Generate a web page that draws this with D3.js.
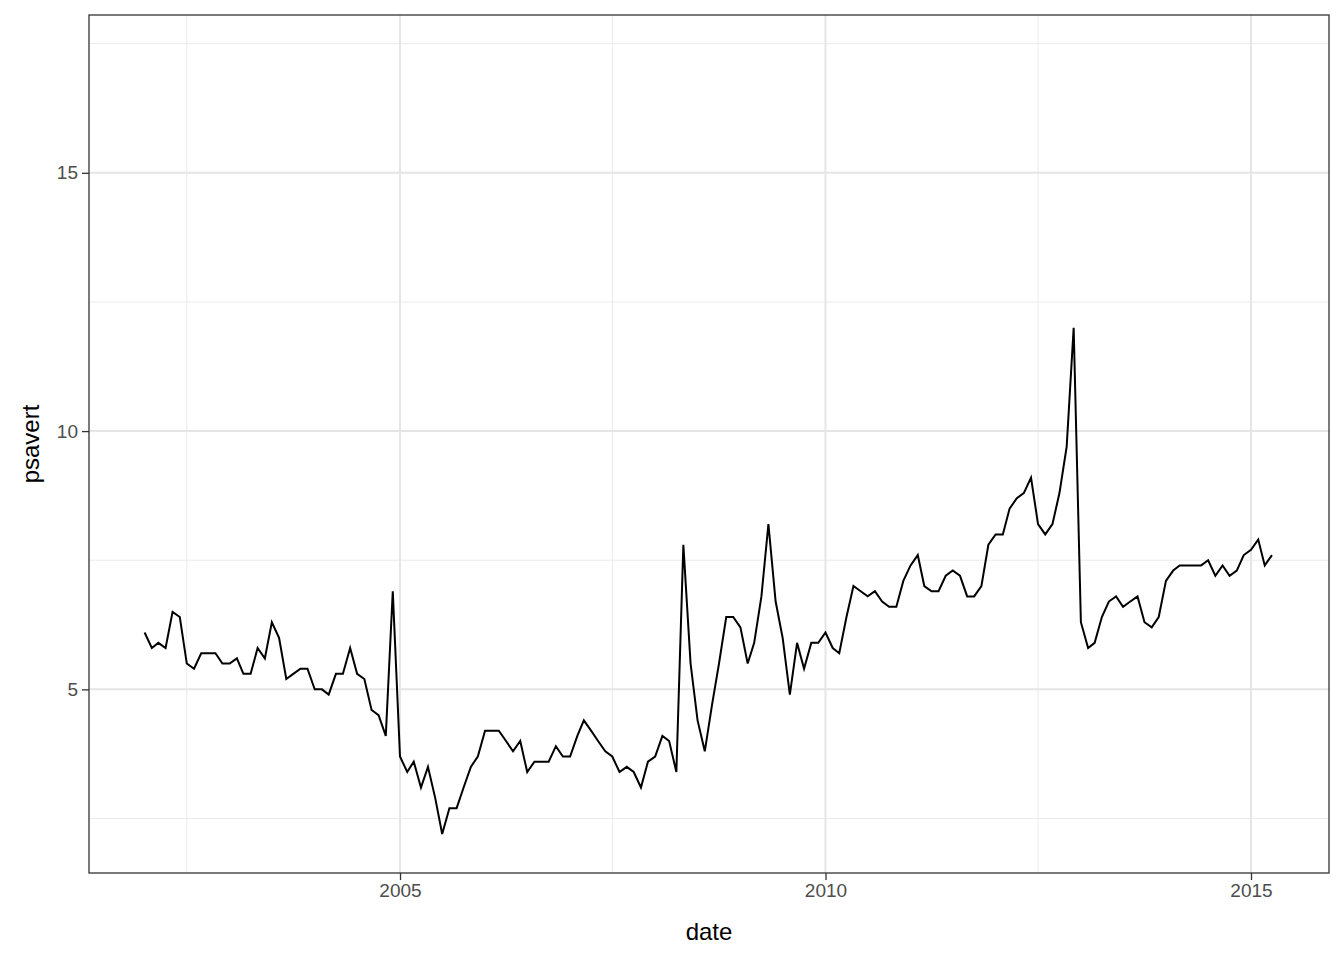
<!DOCTYPE html>
<html lang="en">
<head>
  <meta charset="UTF-8">
  <title></title>
  <style>body{margin:0;background:#fff}</style>
</head>
<body>
  <script src="https://d3js.org/d3.v7.min.js"></script>
  <script>
    // monthly personal savings rate, Jan 2002 .. Apr 2015
    const startYear = 2002;
    const psavert = [
      6.1, 5.8, 5.9, 5.8, 6.5, 6.4, 5.5, 5.4, 5.7, 5.7, 5.7, 5.5,
      5.5, 5.6, 5.3, 5.3, 5.8, 5.6, 6.3, 6.0, 5.2, 5.3, 5.4, 5.4,
      5.0, 5.0, 4.9, 5.3, 5.3, 5.8, 5.3, 5.2, 4.6, 4.5, 4.1, 6.9,
      3.7, 3.4, 3.6, 3.1, 3.5, 2.9, 2.2, 2.7, 2.7, 3.1, 3.5, 3.7,
      4.2, 4.2, 4.2, 4.0, 3.8, 4.0, 3.4, 3.6, 3.6, 3.6, 3.9, 3.7,
      3.7, 4.1, 4.4, 4.2, 4.0, 3.8, 3.7, 3.4, 3.5, 3.4, 3.1, 3.6,
      3.7, 4.1, 4.0, 3.4, 7.8, 5.5, 4.4, 3.8, 4.7, 5.5, 6.4, 6.4,
      6.2, 5.5, 5.9, 6.8, 8.2, 6.7, 6.0, 4.9, 5.9, 5.4, 5.9, 5.9,
      6.1, 5.8, 5.7, 6.4, 7.0, 6.9, 6.8, 6.9, 6.7, 6.6, 6.6, 7.1,
      7.4, 7.6, 7.0, 6.9, 6.9, 7.2, 7.3, 7.2, 6.8, 6.8, 7.0, 7.8,
      8.0, 8.0, 8.5, 8.7, 8.8, 9.1, 8.2, 8.0, 8.2, 8.8, 9.7, 12.0,
      6.3, 5.8, 5.9, 6.4, 6.7, 6.8, 6.6, 6.7, 6.8, 6.3, 6.2, 6.4,
      7.1, 7.3, 7.4, 7.4, 7.4, 7.4, 7.5, 7.2, 7.4, 7.2, 7.3, 7.6,
      7.7, 7.9, 7.4, 7.6
    ];
    const xTicks = [2005, 2010, 2015];
    const xMinor = [2002.5, 2007.5, 2012.5];
    const yTicks = [5, 10, 15];
    const yMinor = [2.5, 7.5, 12.5, 17.5];
    const yDomain = [1.445, 18.055];

    const data = psavert.map((v, i) => ({ date: new Date(startYear + Math.floor(i / 12), i % 12, 1), v }));
    const yearDate = (y) => new Date(Math.floor(y), Math.round((y % 1) * 12), 1);

    const [width, height] = [1344, 960];
    const margin = { top: 15, right: 15, bottom: 87, left: 89 };

    // calibrate: 2005 at 400, 2015 at 1251
    const x = d3.scaleTime().range([margin.left, width - margin.right]);
    {
      const a = +new Date(2005, 0, 1), b = +new Date(2015, 0, 1);
      const k = (b - a) / (1251 - 400);
      x.domain([new Date(a - (400 - margin.left) * k), new Date(a + (width - margin.right - 400) * k)]);
    }
    const y = d3.scaleLinear().domain(yDomain).range([height - margin.bottom, margin.top]);

    const svg = d3.select(document.body).append("svg")
      .attr("width", width).attr("height", height)
      .attr("font-family", "Liberation Sans, Arial, sans-serif");

    const grid = svg.append("g");
    grid.selectAll(".ymin").data(yMinor).join("line")
      .attr("x1", margin.left).attr("x2", width - margin.right)
      .attr("y1", d => y(d)).attr("y2", d => y(d))
      .attr("stroke", "#ebebeb").attr("stroke-width", 1);
    grid.selectAll(".xmin").data(xMinor).join("line")
      .attr("y1", margin.top).attr("y2", height - margin.bottom)
      .attr("x1", d => x(yearDate(d))).attr("x2", d => x(yearDate(d)))
      .attr("stroke", "#ebebeb").attr("stroke-width", 1);
    grid.selectAll(".ymaj").data(yTicks).join("line")
      .attr("x1", margin.left).attr("x2", width - margin.right)
      .attr("y1", d => y(d)).attr("y2", d => y(d))
      .attr("stroke", "#e5e5e5").attr("stroke-width", 2);
    grid.selectAll(".xmaj").data(xTicks).join("line")
      .attr("y1", margin.top).attr("y2", height - margin.bottom)
      .attr("x1", d => x(yearDate(d))).attr("x2", d => x(yearDate(d)))
      .attr("stroke", "#e5e5e5").attr("stroke-width", 2);

    svg.append("path").datum(data)
      .attr("fill", "none").attr("stroke", "#000").attr("stroke-width", 2)
      .attr("d", d3.line().x(d => x(d.date)).y(d => y(d.v)));

    svg.append("rect")
      .attr("x", margin.left).attr("y", margin.top)
      .attr("width", width - margin.left - margin.right)
      .attr("height", height - margin.top - margin.bottom)
      .attr("fill", "none").attr("stroke", "#333").attr("stroke-width", 1.3);

    const xAxis = svg.append("g")
      .attr("transform", `translate(0,${height - margin.bottom})`)
      .call(d3.axisBottom(x).tickValues(xTicks.map(yearDate)).tickFormat(d3.timeFormat("%Y")).tickSize(7).tickPadding(4));
    const yAxis = svg.append("g")
      .attr("transform", `translate(${margin.left},0)`)
      .call(d3.axisLeft(y).tickValues(yTicks).tickSize(7).tickPadding(4));
    [xAxis, yAxis].forEach(g => {
      g.select(".domain").remove();
      g.attr("font-size", 19).attr("font-family", null);
      g.selectAll(".tick line").attr("stroke", "#333").attr("stroke-width", 1.3);
      g.selectAll(".tick text").attr("fill", "#4d4d4d");
    });

    svg.append("text").attr("x", (margin.left + width - margin.right) / 2).attr("y", 940)
      .attr("text-anchor", "middle").attr("font-size", 24).text("date");
    svg.append("text").attr("transform", `translate(39,${(margin.top + height - margin.bottom) / 2}) rotate(-90)`)
      .attr("text-anchor", "middle").attr("font-size", 24).text("psavert");
  </script>
</body>
</html>
